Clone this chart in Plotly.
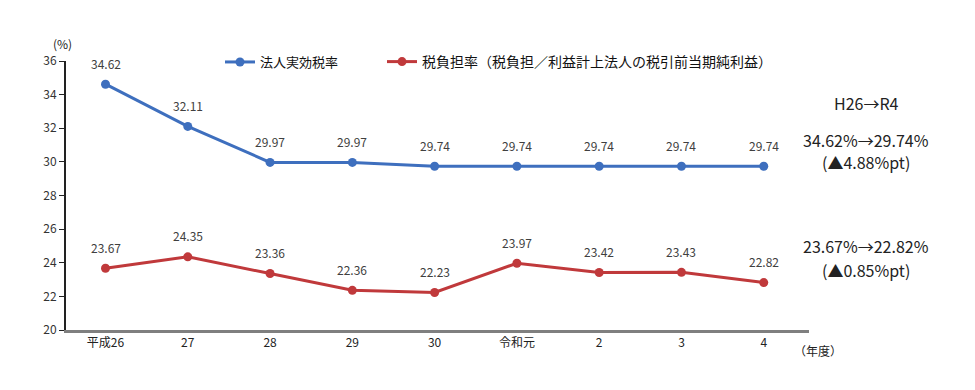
import plotly.graph_objects as go

categories = ["平成26", "27", "28", "29", "30", "令和元", "2", "3", "4"]
effective_rate = [34.62, 32.11, 29.97, 29.97, 29.74, 29.74, 29.74, 29.74, 29.74]
burden_rate = [23.67, 24.35, 23.36, 22.36, 22.23, 23.97, 23.42, 23.43, 22.82]
name_eff = "法人実効税率"
name_bur = "税負担率（税負担／利益計上法人の税引前当期純利益）"
y_ticks = [20, 22, 24, 26, 28, 30, 32, 34, 36]

BLUE = "#3E6FBE"
RED = "#C0393B"
FONT = "Noto Sans CJK JP"

fig = go.Figure()
for name, vals, col, lg in [(name_eff, effective_rate, BLUE, "legend"), (name_bur, burden_rate, RED, "legend2")]:
    fig.add_trace(go.Scatter(
        x=list(range(len(categories))), y=vals, name=name, mode="lines+markers",
        line=dict(color=col, width=3), marker=dict(color=col, size=9), legend=lg,
    ))
    for i, v in enumerate(vals):
        fig.add_annotation(x=i, y=v, text=f"{v:.2f}", showarrow=False, yshift=21,
                           font=dict(size=12, color="#404040", family=FONT))

right_notes = [("H26→R4", 103), ("34.62%→29.74%", 140), ("(▲4.88%pt)", 162),
               ("23.67%→22.82%", 246), ("(▲0.85%pt)", 270)]
for t, ypx in right_notes:
    fig.add_annotation(xref="paper", yref="paper", x=(866 - 66) / 743, y=(330 - ypx) / 269,
                       text=t, showarrow=False, xanchor="center", yanchor="middle",
                       font=dict(size=16, color="#222222", family=FONT))

fig.add_annotation(xref="paper", yref="paper", x=-4 / 743, y=(330 - 44) / 269, text="(%)",
                   showarrow=False, xanchor="center", yanchor="middle",
                   font=dict(size=12, color="#222222", family=FONT))
fig.add_annotation(xref="paper", yref="paper", x=(818 - 66) / 743, y=-(350 - 330) / 269,
                   text="（年度）", showarrow=False, xanchor="center", yanchor="middle",
                   font=dict(size=12, color="#222222", family=FONT))

legend_common = dict(orientation="h", y=(330 - 62) / 269, xanchor="left", yanchor="middle",
                     bgcolor="rgba(0,0,0,0)")

fig.update_layout(
    width=975, height=390,
    margin=dict(l=66, r=166, t=61, b=60, autoexpand=False),
    plot_bgcolor="white", paper_bgcolor="white",
    font=dict(family=FONT, size=12, color="#333333"),
    showlegend=True,
    legend=dict(x=(220 - 66) / 743, font=dict(size=13, color="#111111", family=FONT), **legend_common),
    legend2=dict(x=(382 - 66) / 743, font=dict(size=14, color="#111111", family=FONT), **legend_common),
    xaxis=dict(range=[-0.48, 8.55], tickvals=list(range(len(categories))), ticktext=categories,
               showgrid=False, showline=True, zeroline=False,
               linecolor="#7F7F7F", linewidth=3, ticks="", tickfont=dict(size=12, color="#222222"),
               automargin=False),
    yaxis=dict(range=[20, 36], tickvals=y_ticks, showgrid=False, showline=True, linecolor="#222222",
               linewidth=2, ticks="outside", ticklen=5, tickcolor="#222222",
               tickfont=dict(size=12, color="#333333"), zeroline=False, automargin=False),
)

fig.write_html("out.html", post_script="document.body.style.margin='0';",
               config={"displayModeBar": False})
